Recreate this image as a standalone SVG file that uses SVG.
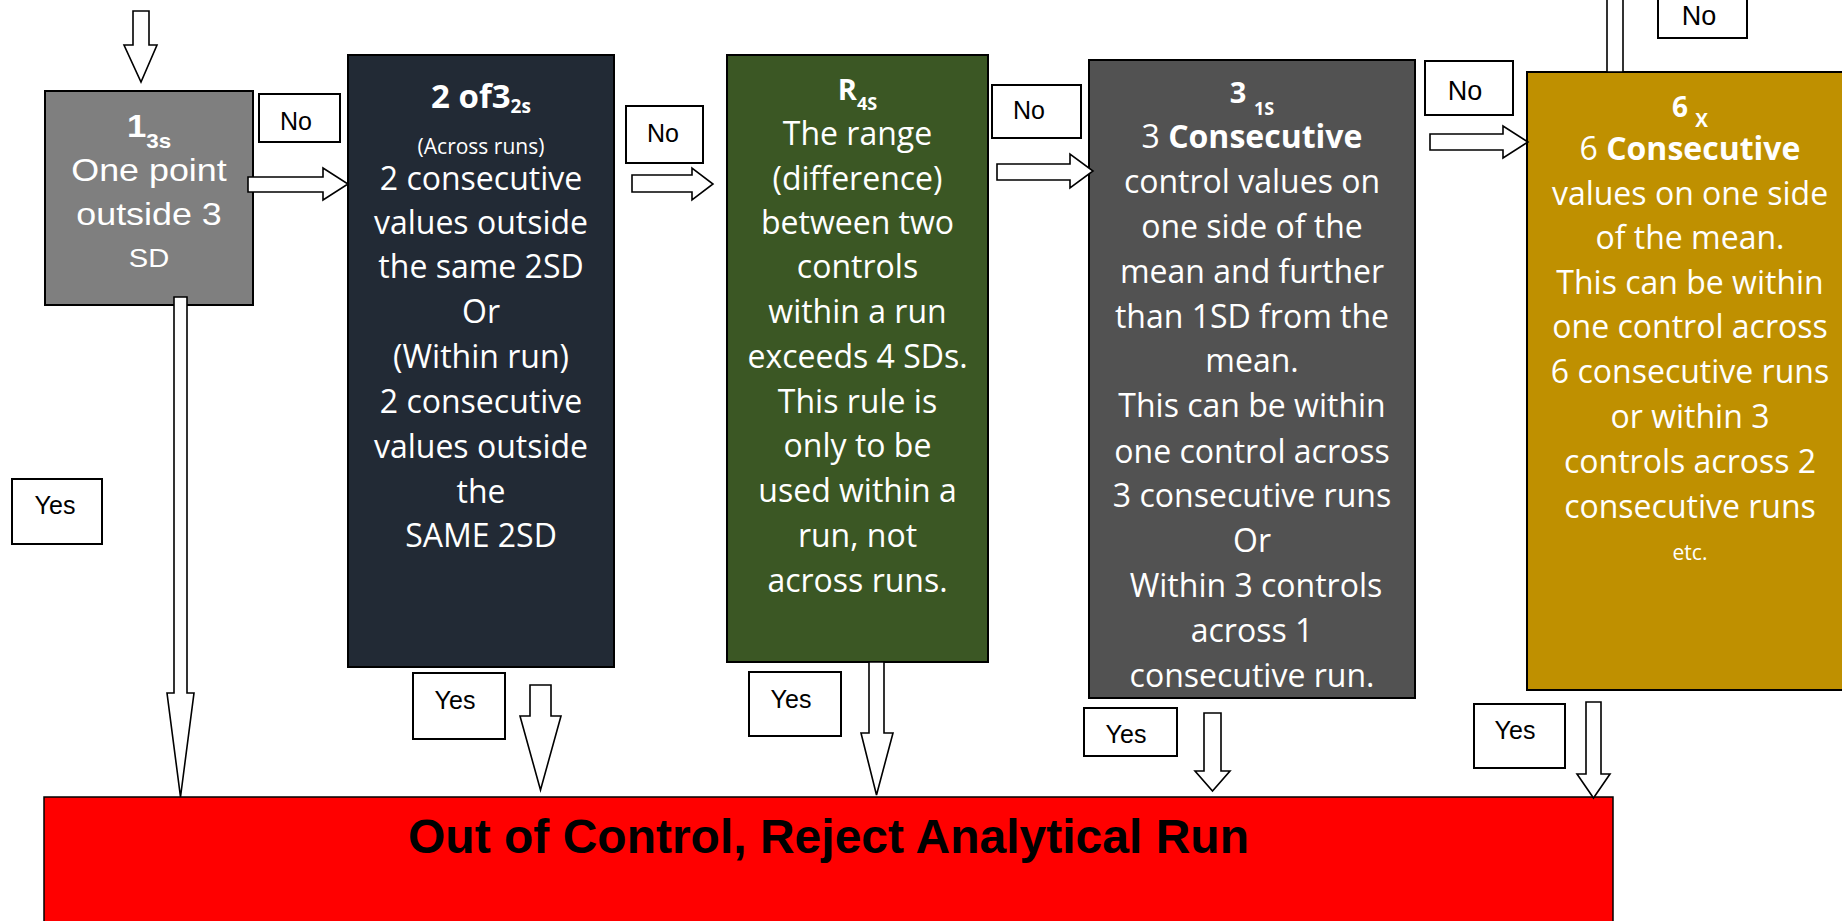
<svg xmlns="http://www.w3.org/2000/svg" width="1842" height="921" viewBox="0 0 1842 921">
  <style>
    .node { stroke: #000; stroke-width: 2; }
    .blk { fill: #fff; stroke: #000; stroke-width: 1.6; stroke-linejoin: miter; }
    .lbl { fill: #fff; stroke: #000; stroke-width: 2; }
    .lt { font-family: "Liberation Sans", Arial, sans-serif; fill: #000; text-anchor: middle; }
    .ar { font-family: "Liberation Sans", Arial, sans-serif; fill: #fff; text-anchor: middle; }
    .cb { font-family: "Open Sans", "Noto Sans", sans-serif; fill: #fff; text-anchor: middle; }
    .b { font-weight: bold; }
  </style>

  <rect x="0" y="0" width="1842" height="921" fill="#fff"/>

  <!-- rule boxes -->
  <g id="rule-1-3s">
    <rect class="node" x="45" y="91" width="208" height="214" fill="#7f7f7f"/>
    <g transform="translate(149 0) scale(1.12 1)">
      <text class="ar b" x="0" y="137" font-size="31">1<tspan font-size="20" dy="11">3s</tspan></text>
      <text class="ar" x="0" y="181" font-size="32">One point</text>
      <text class="ar" x="0" y="225" font-size="32">outside 3</text>
      <text class="ar" x="0" y="267" font-size="26">SD</text>
    </g>
  </g>

  <g id="rule-2of3-2s" font-size="32">
    <rect class="node" x="348" y="55" width="266" height="612" fill="#222a35"/>
    <text class="cb b" x="481" y="108" font-size="33">2 of3<tspan font-size="19" dy="5">2s</tspan></text>
    <text class="cb" x="481" y="154" font-size="21">(Across runs)</text>
    <text class="cb" x="481" y="190">2 consecutive</text>
    <text class="cb" x="481" y="234">values outside</text>
    <text class="cb" x="481" y="278">the same 2SD</text>
    <text class="cb" x="481" y="323">Or</text>
    <text class="cb" x="481" y="368">(Within run)</text>
    <text class="cb" x="481" y="413">2 consecutive</text>
    <text class="cb" x="481" y="458">values outside</text>
    <text class="cb" x="481" y="503">the</text>
    <text class="cb" x="481" y="547">SAME 2SD</text>
  </g>

  <g id="rule-r4s" font-size="32">
    <rect class="node" x="727" y="55" width="261" height="607" fill="#3b5724"/>
    <text class="cb b" x="857.5" y="100" font-size="29">R<tspan font-size="18" dy="10">4S</tspan></text>
    <text class="cb" x="857.5" y="145">The range</text>
    <text class="cb" x="857.5" y="190">(difference)</text>
    <text class="cb" x="857.5" y="234">between two</text>
    <text class="cb" x="857.5" y="278">controls</text>
    <text class="cb" x="857.5" y="323">within a run</text>
    <text class="cb" x="857.5" y="368">exceeds 4 SDs.</text>
    <text class="cb" x="857.5" y="413">This rule is</text>
    <text class="cb" x="857.5" y="457">only to be</text>
    <text class="cb" x="857.5" y="502">used within a</text>
    <text class="cb" x="857.5" y="547">run, not</text>
    <text class="cb" x="857.5" y="592">across runs.</text>
  </g>

  <g id="rule-3-1s" font-size="32">
    <rect class="node" x="1089" y="60" width="326" height="638" fill="#525252"/>
    <text class="cb b" x="1252" y="103" font-size="29">3 <tspan font-size="18" dy="12">1S</tspan></text>
    <text class="cb" x="1252" y="148">3 <tspan class="b">Consecutive</tspan></text>
    <text class="cb" x="1252" y="193">control values on</text>
    <text class="cb" x="1252" y="238">one side of the</text>
    <text class="cb" x="1252" y="283">mean and further</text>
    <text class="cb" x="1252" y="328">than 1SD from the</text>
    <text class="cb" x="1252" y="372">mean.</text>
    <text class="cb" x="1252" y="417">This can be within</text>
    <text class="cb" x="1252" y="463">one control across</text>
    <text class="cb" x="1252" y="507">3 consecutive runs</text>
    <text class="cb" x="1252" y="552">Or</text>
    <text class="cb" x="1256" y="597">Within 3 controls</text>
    <text class="cb" x="1252" y="642">across 1</text>
    <text class="cb" x="1252" y="687">consecutive run.</text>
  </g>

  <g id="rule-6x" font-size="32">
    <rect class="node" x="1527" y="72" width="330" height="618" fill="#bf9000"/>
    <text class="cb b" x="1690" y="117" font-size="28">6 <tspan font-size="19" dy="10">X</tspan></text>
    <text class="cb" x="1690" y="160">6 <tspan class="b">Consecutive</tspan></text>
    <text class="cb" x="1690" y="205">values on one side</text>
    <text class="cb" x="1690" y="249">of the mean.</text>
    <text class="cb" x="1690" y="294">This can be within</text>
    <text class="cb" x="1690" y="338">one control across</text>
    <text class="cb" x="1690" y="383">6 consecutive runs</text>
    <text class="cb" x="1690" y="428">or within 3</text>
    <text class="cb" x="1690" y="473">controls across 2</text>
    <text class="cb" x="1690" y="518">consecutive runs</text>
    <text class="cb" x="1690" y="560" font-size="21">etc.</text>
  </g>

  <g id="reject-run">
    <rect x="44" y="797" width="1569" height="140" fill="#ff0000" stroke="#000" stroke-width="1.5"/>
    <text x="828.5" y="853" font-family="'Liberation Sans', Arial, sans-serif" font-size="48" font-weight="bold" fill="#000" text-anchor="middle">Out of Control, Reject Analytical Run</text>
  </g>

  <!-- block arrows -->
  <g id="connectors">
    <polygon class="blk" points="133,11 149,11 149,45 157,45 141,82 124,45 133,45"/>
    <polygon class="blk" points="248,177 323,177 323,168 348,184 323,200 323,192 248,192"/>
    <polygon class="blk" points="632,175 692,175 692,168 713,184 692,200 692,192 632,192"/>
    <polygon class="blk" points="997,164 1070,164 1070,154 1093,171 1070,188 1070,180 997,180"/>
    <polygon class="blk" points="1430,134 1503,134 1503,126 1528,142 1503,158 1503,150 1430,150"/>
    <rect class="blk" x="1607" y="-4" width="16" height="76"/>
    <polygon class="blk" points="174,297 187,297 187,693 194,693 180.5,797 167,693 174,693"/>
    <polygon class="blk" points="530,685 551,685 551,716 561,716 540.5,790 520,716 530,716"/>
    <polygon class="blk" points="869,662 884,662 884,733 893,733 876.5,795 861,733 869,733"/>
    <polygon class="blk" points="1204,713 1221,713 1221,771 1230,771 1212.5,791 1195,771 1204,771"/>
    <polygon class="blk" points="1586,702 1601,702 1601,774 1610,774 1593.5,798 1577,774 1586,774"/>
  </g>

  <!-- decision labels -->
  <g id="labels" font-size="25">
    <g id="no-1"><rect class="lbl" x="259" y="94" width="81" height="48"/><text class="lt" x="296" y="130">No</text></g>
    <g id="no-2"><rect class="lbl" x="626" y="106" width="77" height="57"/><text class="lt" x="663" y="142">No</text></g>
    <g id="no-3"><rect class="lbl" x="992" y="85" width="89" height="53"/><text class="lt" x="1029" y="119">No</text></g>
    <g id="no-4"><rect class="lbl" x="1425" y="61" width="88" height="54"/><text class="lt" x="1465" y="100" font-size="27">No</text></g>
    <g id="no-5"><rect class="lbl" x="1658" y="-4" width="89" height="42"/><text class="lt" x="1699" y="25" font-size="27">No</text></g>
    <g id="yes-1"><rect class="lbl" x="12" y="479" width="90" height="65"/><text class="lt" x="55" y="514">Yes</text></g>
    <g id="yes-2"><rect class="lbl" x="413" y="673" width="92" height="66"/><text class="lt" x="455" y="709">Yes</text></g>
    <g id="yes-3"><rect class="lbl" x="749" y="672" width="92" height="64"/><text class="lt" x="791" y="708">Yes</text></g>
    <g id="yes-4"><rect class="lbl" x="1084" y="708" width="93" height="48"/><text class="lt" x="1126" y="743">Yes</text></g>
    <g id="yes-5"><rect class="lbl" x="1474" y="704" width="91" height="64"/><text class="lt" x="1515" y="739">Yes</text></g>
  </g>
</svg>
